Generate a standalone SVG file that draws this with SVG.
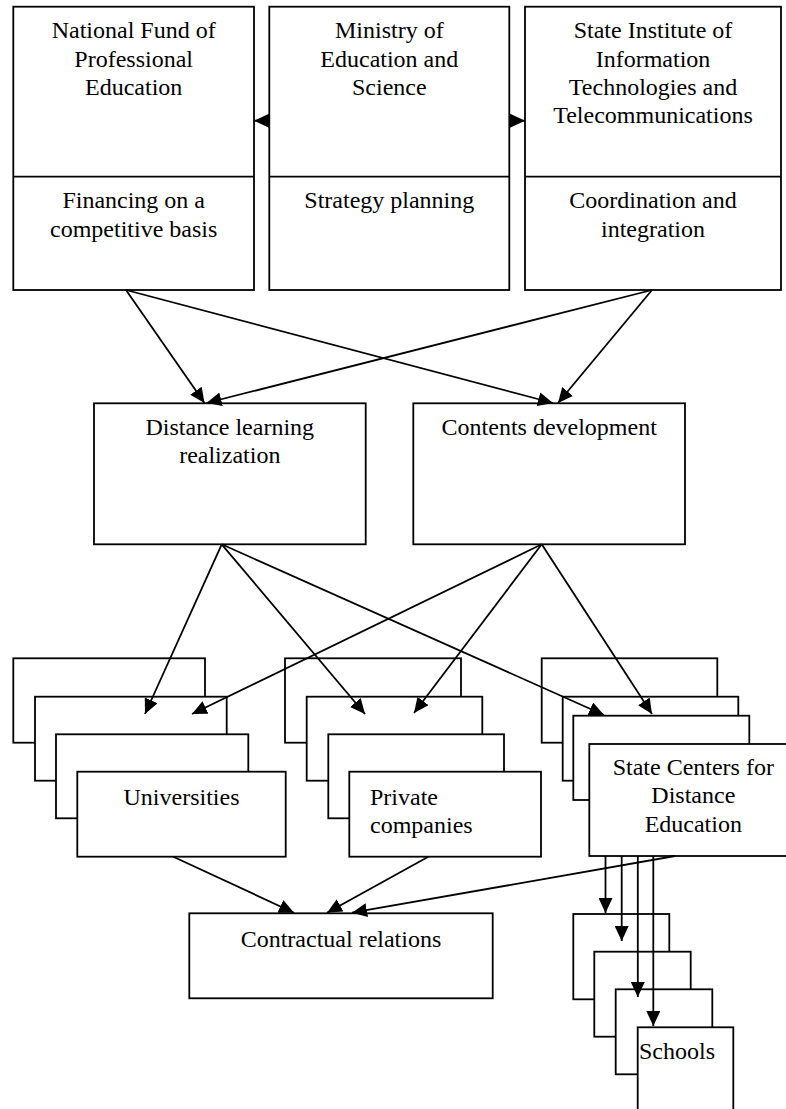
<svg xmlns="http://www.w3.org/2000/svg" width="786" height="1109" viewBox="0 0 786 1109">
<style>
.b{fill:#fff;stroke:#000;stroke-width:1.8}
.t{font-family:"Liberation Serif","Times New Roman",serif;font-size:24px;fill:#000}
.c{text-anchor:middle}
.l{fill:none;stroke:#000;stroke-width:1.8}
</style>
<defs>
<marker id="ah" markerUnits="userSpaceOnUse" markerWidth="16" markerHeight="14" viewBox="0 0 16 14" refX="15" refY="7" orient="auto">
<path d="M0,0 L15,7 L0,14 z" fill="#000"/>
</marker>
</defs>
<rect width="786" height="1109" fill="#fff"/>
<g id="n-fund">
<rect class="b" x="13.3" y="6.7" width="240.7" height="283.3"/>
<line class="l" x1="13.3" y1="176.7" x2="254" y2="176.7"/>
<text class="t c" x="133.7"><tspan x="133.7" y="38.3">National Fund of</tspan><tspan x="133.7" y="66.7">Professional</tspan><tspan x="133.7" y="95">Education</tspan></text>
<text class="t c"><tspan x="133.7" y="208.3">Financing on a</tspan><tspan x="133.7" y="236.7">competitive basis</tspan></text>
</g>
<g id="n-ministry">
<rect class="b" x="269.3" y="6.7" width="240" height="283.3"/>
<line class="l" x1="269.3" y1="176.7" x2="509.3" y2="176.7"/>
<text class="t c"><tspan x="389.3" y="38.3">Ministry of</tspan><tspan x="389.3" y="66.7">Education and</tspan><tspan x="389.3" y="95">Science</tspan></text>
<text class="t c"><tspan x="389.3" y="208.3">Strategy planning</tspan></text>
</g>
<g id="n-institute">
<rect class="b" x="525" y="6.7" width="256" height="283.3"/>
<line class="l" x1="525" y1="176.7" x2="781" y2="176.7"/>
<text class="t c"><tspan x="653" y="38.3">State Institute of</tspan><tspan x="653" y="66.7">Information</tspan><tspan x="653" y="95">Technologies and</tspan><tspan x="653" y="123.3">Telecommunications</tspan></text>
<text class="t c"><tspan x="653" y="208.3">Coordination and</tspan><tspan x="653" y="236.7">integration</tspan></text>
</g>
<g id="n-distance">
<rect class="b" x="94" y="403.3" width="271.7" height="141"/>
<text class="t c"><tspan x="229.8" y="435">Distance learning</tspan><tspan x="229.8" y="463.3">realization</tspan></text>
</g>
<g id="n-contents">
<rect class="b" x="413.3" y="403.3" width="271.7" height="141"/>
<text class="t c"><tspan x="549.2" y="435">Contents development</tspan></text>
</g>
<g id="n-universities">
<rect class="b" x="13.3" y="658.3" width="191.7" height="84.4"/>
<rect class="b" x="35" y="696.7" width="191.7" height="84"/>
<rect class="b" x="56" y="734.3" width="192.3" height="84"/>
<rect class="b" x="77.3" y="771.7" width="208.4" height="85"/>
<text class="t c" x="181.5" y="805">Universities</text>
</g>
<g id="n-private">
<rect class="b" x="285" y="658.3" width="176" height="84.4"/>
<rect class="b" x="306.7" y="696.7" width="175.6" height="84"/>
<rect class="b" x="328.3" y="734.3" width="175.7" height="84"/>
<rect class="b" x="349.3" y="771.7" width="191.7" height="85"/>
<text class="t"><tspan x="370" y="805">Private</tspan><tspan x="370" y="832.5">companies</tspan></text>
</g>
<g id="n-statecenters">
<rect class="b" x="541.7" y="658.3" width="175.6" height="84.4"/>
<rect class="b" x="562.7" y="696.7" width="175.6" height="84"/>
<rect class="b" x="573.3" y="715.7" width="176" height="84.3"/>
<rect class="b" x="589.3" y="744" width="208" height="112"/>
<text class="t c"><tspan x="693.3" y="775">State Centers for</tspan><tspan x="693.3" y="803.3">Distance</tspan><tspan x="693.3" y="831.7">Education</tspan></text>
</g>
<g id="n-contractual">
<rect class="b" x="189.3" y="913.3" width="303.4" height="85"/>
<text class="t c" x="341" y="946.7">Contractual relations</text>
</g>
<g id="n-schools">
<rect class="b" x="573.3" y="914" width="96" height="85.3"/>
<rect class="b" x="594.3" y="951.7" width="96.4" height="85"/>
<rect class="b" x="615.7" y="989.3" width="96.6" height="85"/>
<rect class="b" x="637.7" y="1027.3" width="95.6" height="90"/>
<text class="t" x="639" y="1059.3">Schools</text>
</g>
<g id="connectors" class="l" marker-end="url(#ah)">
<line class="l" x1="269.3" y1="120.7" x2="254" y2="120.7" marker-end="url(#ah)"/>
<line class="l" x1="509.3" y1="120.7" x2="525" y2="120.7" marker-end="url(#ah)"/>
<line class="l" x1="126" y1="290" x2="204.5" y2="403" marker-end="url(#ah)"/>
<line class="l" x1="126" y1="290" x2="553" y2="403" marker-end="url(#ah)"/>
<line class="l" x1="652" y1="290" x2="206.5" y2="403" marker-end="url(#ah)"/>
<line class="l" x1="652" y1="290" x2="558" y2="403" marker-end="url(#ah)"/>
<line class="l" x1="221.7" y1="544.3" x2="145" y2="714" marker-end="url(#ah)"/>
<line class="l" x1="221.7" y1="544.3" x2="365" y2="714" marker-end="url(#ah)"/>
<line class="l" x1="221.7" y1="544.3" x2="604" y2="715" marker-end="url(#ah)"/>
<line class="l" x1="541.7" y1="544.3" x2="192" y2="714" marker-end="url(#ah)"/>
<line class="l" x1="541.7" y1="544.3" x2="414" y2="713" marker-end="url(#ah)"/>
<line class="l" x1="541.7" y1="544.3" x2="652" y2="714" marker-end="url(#ah)"/>
<line class="l" x1="173.3" y1="856.7" x2="294" y2="912.7" marker-end="url(#ah)"/>
<line class="l" x1="428.3" y1="856.7" x2="327" y2="912.7" marker-end="url(#ah)"/>
<line class="l" x1="675" y1="856" x2="352" y2="912.7" marker-end="url(#ah)"/>
<line class="l" x1="605.5" y1="856" x2="605.5" y2="913" marker-end="url(#ah)"/>
<line class="l" x1="621.7" y1="856" x2="621.7" y2="941" marker-end="url(#ah)"/>
<line class="l" x1="637.8" y1="856" x2="637.8" y2="997" marker-end="url(#ah)"/>
<line class="l" x1="653.3" y1="856" x2="653.3" y2="1026" marker-end="url(#ah)"/>
</g>
</svg>
